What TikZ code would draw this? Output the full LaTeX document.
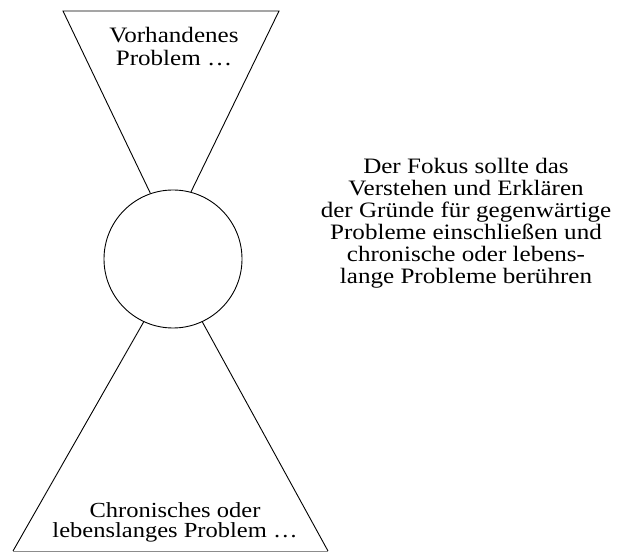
\documentclass[tikz,border=0pt]{standalone}
\usepackage{fontspec}
\setmainfont{Liberation Serif}
\newfontfamily\widefont[FakeStretch=1.14]{Liberation Serif}
\begin{document}
\begin{tikzpicture}[x=1pt,y=-1pt,
  edge/.style={draw=black,line width=0.9pt},
  faint/.style={draw=black!45,line width=0.9pt},
  lbl/.style={align=center,anchor=base,inner sep=0pt}]
\useasboundingbox (0,0) rectangle (630,553);
\node[circle,draw,line width=0.9pt,minimum size=138pt,inner sep=0pt] (c) at (173,259) {};
\coordinate (tl) at (63,11);
\coordinate (tr) at (279,11);
\coordinate (bl) at (13,551);
\coordinate (br) at (328,551);
\draw[edge] (c.109) -- (tl) -- (tr) -- (c.75);
\draw[edge] (c.245) -- (bl);
\draw[edge] (c.295) -- (br);
\draw[faint] (bl) -- (br);
\node[lbl,font=\widefont\fontsize{22}{23}\selectfont] (top) at (174,66) {Vorhandenes\\Problem \dots};
\node[lbl,font=\widefont\fontsize{21.5}{20}\selectfont] (bot) at (175,537) {Chronisches oder\\lebenslanges Problem \dots};
\node[lbl,font=\widefont\fontsize{22}{22}\selectfont] (side) at (466,284) {Der Fokus sollte das\\Verstehen und Erklären\\der Gründe für gegenwärtige\\Probleme einschließen und\\chronische oder lebens-\\lange Probleme berühren};
\end{tikzpicture}
\end{document}
